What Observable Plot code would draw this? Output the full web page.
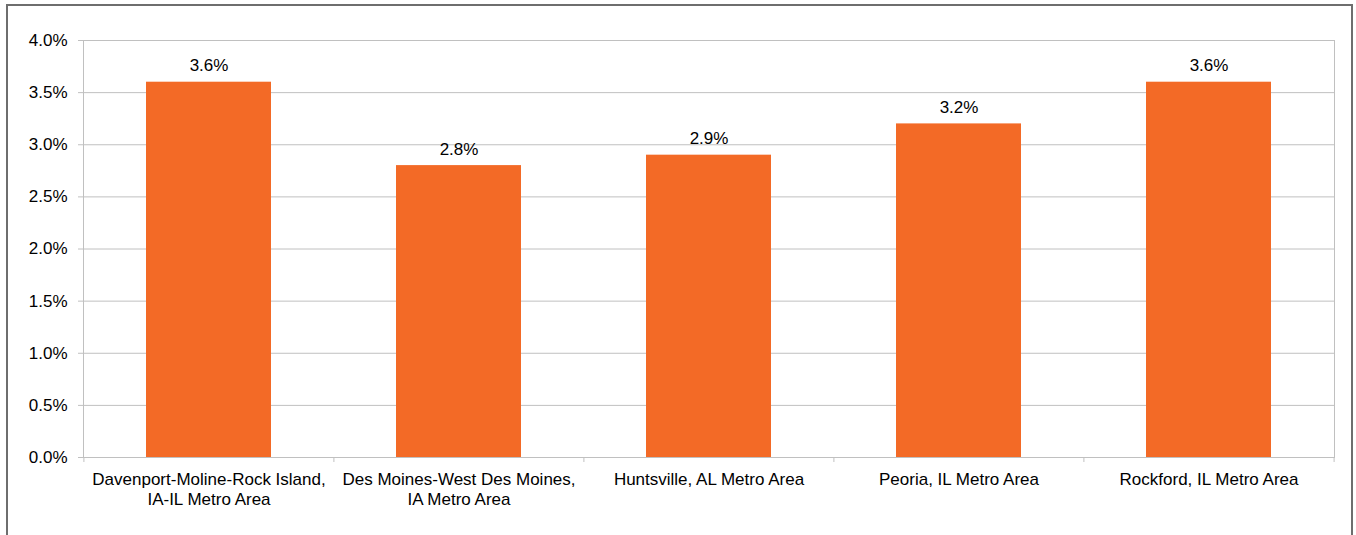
<!DOCTYPE html>
<html>
<head>
<meta charset="utf-8">
<script src="https://cdn.jsdelivr.net/npm/d3@7"></script>
<script src="https://cdn.jsdelivr.net/npm/@observablehq/plot@0.6"></script>
<style>
  html, body { margin: 0; padding: 0; background: #fff; overflow: hidden; }
  #wrap { position: relative; width: 1356px; height: 535px; }
  #border { position: absolute; left: 6px; top: 4px; width: 1347px; height: 560px; border: 2px solid #6e6e6e; box-sizing: border-box; }
  #chart { position: absolute; left: 0; top: 0; }
  #chart svg { display: block; }
</style>
</head>
<body>
<div id="wrap">
  <div id="border"></div>
  <div id="chart"></div>
</div>
<script>
const categories = [
  "Davenport-Moline-Rock Island,\nIA-IL Metro Area",
  "Des Moines-West Des Moines,\nIA Metro Area",
  "Huntsville, AL Metro Area",
  "Peoria, IL Metro Area",
  "Rockford, IL Metro Area"
];
const values = [0.036, 0.028, 0.029, 0.032, 0.036];
const valueLabels = ["3.6%", "2.8%", "2.9%", "3.2%", "3.6%"];
const yTicks = [0, 0.005, 0.01, 0.015, 0.02, 0.025, 0.03, 0.035, 0.04];

const data = categories.map((c, i) => ({category: c, value: values[i], label: valueLabels[i]}));

const W = 1356, H = 535;
const mL = 83, mR = 22, mT = 40, mB = 78;
const step = (W - mL - mR) / categories.length;
const gridColor = "#c0c0c0";
const font = "Liberation Sans, Arial, sans-serif";
const fs = 17;

const chart = Plot.plot({
  width: W,
  height: H,
  marginLeft: mL,
  marginRight: mR,
  marginTop: mT,
  marginBottom: mB,
  style: {fontFamily: font, fontSize: fs + "px", color: "#000", background: "transparent"},
  x: {domain: categories, paddingInner: 0.5, paddingOuter: 0.25, align: 0.5, label: null},
  y: {domain: [0, 0.04], label: null},
  marks: [
    Plot.ruleY(yTicks, {stroke: gridColor, strokeWidth: 1, strokeOpacity: 1}),
    Plot.frame({stroke: gridColor, strokeOpacity: 1}),
    Plot.barY(data, {x: "category", y: "value", fill: "#f36a26"}),
    Plot.text(data, {x: "category", y: "value", text: "label", lineAnchor: "bottom", dy: -11, fill: "#000", fontSize: fs}),
    // boundary ticks below the x axis
    Plot.ruleX(categories, {x: d => d, y1: 0, y2: 0, insetBottom: -5, dx: -step / 2, stroke: gridColor, strokeOpacity: 1}),
    Plot.ruleX(categories.slice(-1), {x: d => d, y1: 0, y2: 0, insetBottom: -5, dx: step / 2, stroke: gridColor, strokeOpacity: 1}),
    Plot.axisY({ticks: yTicks, tickFormat: d3.format(".1%"), tickSize: 5, tickPadding: 11, stroke: gridColor, strokeOpacity: 1, fill: "#000", fontSize: fs, label: null}),
    Plot.axisX({tickSize: 0, tickPadding: 14, lineHeight: 1.15, fill: "#000", fontSize: fs, label: null})
  ]
});

document.getElementById("chart").appendChild(chart);
</script>
</body>
</html>
